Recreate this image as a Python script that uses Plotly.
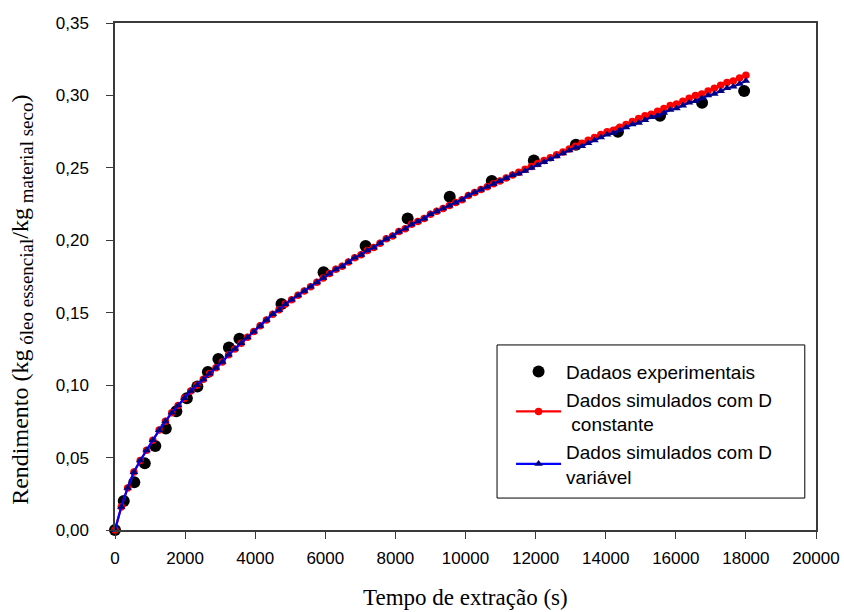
import plotly.graph_objects as go

# Experimental data
t_exp = [0, 250, 550, 850, 1150, 1450, 1750, 2050, 2350, 2650, 2950, 3250, 3550,
         4750, 5950, 7150, 8350, 9550, 10750, 11950, 13150, 14350, 15550, 16750, 17950]
y_exp = [0.000, 0.020, 0.033, 0.046, 0.058, 0.070, 0.082, 0.091, 0.099, 0.109, 0.118, 0.126, 0.132,
         0.156, 0.178, 0.196, 0.215, 0.230, 0.241, 0.255, 0.266, 0.275, 0.286, 0.295, 0.303]

# Simulated time points (every 180 s)
t_sim = [0, 180, 360, 540, 720, 900, 1080, 1260, 1440, 1620,
         1800, 1980, 2160, 2340, 2520, 2700, 2880, 3060, 3240, 3420,
         3600, 3780, 3960, 4140, 4320, 4500, 4680, 4860, 5040, 5220,
         5400, 5580, 5760, 5940, 6120, 6300, 6480, 6660, 6840, 7020,
         7200, 7380, 7560, 7740, 7920, 8100, 8280, 8460, 8640, 8820,
         9000, 9180, 9360, 9540, 9720, 9900, 10080, 10260, 10440, 10620,
         10800, 10980, 11160, 11340, 11520, 11700, 11880, 12060, 12240, 12420,
         12600, 12780, 12960, 13140, 13320, 13500, 13680, 13860, 14040, 14220,
         14400, 14580, 14760, 14940, 15120, 15300, 15480, 15660, 15840, 16020,
         16200, 16380, 16560, 16740, 16920, 17100, 17280, 17460, 17640, 17820, 18000]

y_const = [0.000, 0.016, 0.029, 0.040, 0.048, 0.055, 0.062, 0.069, 0.075, 0.081,
           0.086, 0.091, 0.096, 0.100, 0.104, 0.108, 0.112, 0.116, 0.121, 0.125,
           0.129, 0.133, 0.137, 0.141, 0.145, 0.149, 0.152, 0.156, 0.159, 0.162,
           0.165, 0.168, 0.171, 0.174, 0.177, 0.180, 0.182, 0.185, 0.188, 0.190,
           0.193, 0.195, 0.198, 0.201, 0.203, 0.206, 0.208, 0.211, 0.213, 0.215,
           0.218, 0.220, 0.222, 0.224, 0.226, 0.228, 0.231, 0.233, 0.235, 0.237,
           0.239, 0.241, 0.243, 0.245, 0.247, 0.249, 0.251, 0.253, 0.255, 0.257,
           0.259, 0.261, 0.263, 0.265, 0.267, 0.269, 0.271, 0.273, 0.275, 0.276,
           0.278, 0.280, 0.282, 0.284, 0.286, 0.287, 0.289, 0.291, 0.293, 0.294,
           0.296, 0.298, 0.300, 0.301, 0.303, 0.305, 0.307, 0.309, 0.310, 0.312, 0.314]

y_var = [0.000, 0.016, 0.029, 0.040, 0.048, 0.055, 0.062, 0.069, 0.075, 0.081,
         0.086, 0.091, 0.096, 0.100, 0.104, 0.108, 0.112, 0.116, 0.121, 0.125,
         0.129, 0.133, 0.137, 0.141, 0.145, 0.149, 0.152, 0.156, 0.159, 0.162,
         0.165, 0.168, 0.171, 0.174, 0.177, 0.180, 0.182, 0.185, 0.188, 0.190,
         0.193, 0.195, 0.198, 0.201, 0.203, 0.206, 0.208, 0.211, 0.213, 0.215,
         0.218, 0.220, 0.222, 0.224, 0.226, 0.228, 0.231, 0.233, 0.235, 0.237,
         0.239, 0.241, 0.243, 0.245, 0.246, 0.248, 0.250, 0.252, 0.254, 0.256,
         0.258, 0.260, 0.262, 0.264, 0.265, 0.267, 0.269, 0.271, 0.273, 0.274,
         0.276, 0.278, 0.280, 0.281, 0.283, 0.285, 0.286, 0.288, 0.290, 0.291,
         0.293, 0.295, 0.296, 0.298, 0.300, 0.301, 0.303, 0.305, 0.306, 0.308, 0.310]

x_ticks = [0, 2000, 4000, 6000, 8000, 10000, 12000, 14000, 16000, 18000, 20000]
y_ticks = [0.00, 0.05, 0.10, 0.15, 0.20, 0.25, 0.30, 0.35]

names = ["Dadaos experimentais",
         "Dados simulados com D<br> constante",
         "Dados simulados com D<br>variável"]

SANS = "Liberation Sans, Arial, sans-serif"
SERIF = "Liberation Serif, Times New Roman, serif"
AX = "#3a3a3a"

fig = go.Figure()
fig.add_trace(go.Scatter(x=t_exp, y=y_exp, mode="markers", name=names[0],
                         marker=dict(color="black", size=12, symbol="circle"),
                         cliponaxis=False))
fig.add_trace(go.Scatter(x=t_sim, y=y_const, mode="lines+markers", name=names[1],
                         line=dict(color="#ff0000", width=2.2),
                         marker=dict(color="#ff0000", size=7.5, symbol="circle"),
                         cliponaxis=False))
fig.add_trace(go.Scatter(x=t_sim, y=y_var, mode="lines+markers", name=names[2],
                         line=dict(color="#0000ff", width=2.2),
                         marker=dict(color="#000080", size=7.5, symbol="triangle-up"),
                         cliponaxis=False))

fig.update_layout(
    width=844, height=612,
    margin=dict(l=115, r=28, t=23, b=82, autoexpand=False),
    paper_bgcolor="white", plot_bgcolor="white",
    separators=",.",
    showlegend=True,
    legend=dict(x=0.565, y=0.35, xanchor="left", yanchor="top",
                bgcolor="rgba(0,0,0,0)", borderwidth=0,
                font=dict(family=SANS, size=19, color="black"),
                itemwidth=45, tracegroupgap=0),
    xaxis=dict(range=[0, 20000], tickvals=x_ticks, tickformat="d",
               showgrid=False, zeroline=False, automargin=False,
               showline=True, linecolor=AX, linewidth=1.5, mirror=True,
               ticks="outside", ticklen=7, tickwidth=1.2, tickcolor=AX,
               ticklabelstandoff=5,
               tickfont=dict(family=SANS, size=17, color="black")),
    yaxis=dict(range=[0, 0.35], tickvals=y_ticks, tickformat=".2f",
               showgrid=False, zeroline=False, automargin=False,
               showline=True, linecolor=AX, linewidth=1.5, mirror=True,
               ticks="outside", ticklen=7, tickwidth=1.2, tickcolor=AX,
               ticklabelstandoff=14,
               tickfont=dict(family=SANS, size=17, color="black")),
    shapes=[dict(type="rect", xref="paper", yref="paper",
                 x0=0.545, x1=0.984, y0=0.063, y1=0.365,
                 line=dict(color="black", width=1), fillcolor="rgba(0,0,0,0)")],
    annotations=[
        dict(text="Tempo de extração (s)", xref="paper", yref="paper",
             x=0.5, y=0, yshift=-67, xanchor="center", yanchor="middle",
             showarrow=False, font=dict(family=SERIF, size=23, color="black")),
        dict(text=("Rendimento (kg<sub><span style=\"font-size:19px\"> óleo essencial</span></sub>"
                   "/kg<sub><span style=\"font-size:19px\"> material seco</span></sub>)"),
             xref="paper", yref="paper", x=0, y=0.454, xshift=-93,
             xanchor="center", yanchor="middle", textangle=-90,
             showarrow=False, font=dict(family=SERIF, size=24, color="black")),
    ],
)

fig.write_html("out.html")
